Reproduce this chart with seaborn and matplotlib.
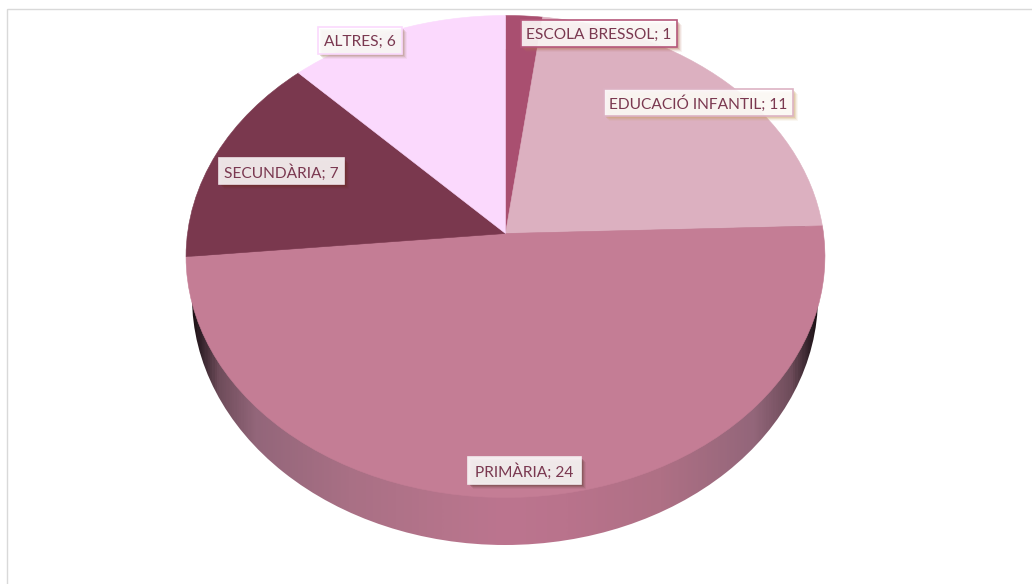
import numpy as np
import matplotlib
matplotlib.use("Agg")
import matplotlib.pyplot as plt
from matplotlib.colors import LinearSegmentedColormap
from matplotlib.patches import PathPatch, Rectangle, Ellipse
from matplotlib.path import Path
import seaborn as sns

# Data
categories = ["ESCOLA BRESSOL", "EDUCACIÓ INFANTIL", "PRIMÀRIA", "SECUNDÀRIA", "ALTRES"]
values = [1, 11, 24, 7, 6]

# Style
slice_colors = ["#A94F70", "#DCB0C0", "#C47D95", "#7A384E", "#FBD9FD"]
box_edges = ["#B5577A", "#DDB3C4", "#F3ECEE", "#EFE4E8", "#FBD9FD"]
shadow_colors = ["#B4705A", "#C9A060", "#5A3A30", "#6A2A20", "#A08060"]
TEXT_COLOR = "#7A3850"
# label boxes: left, top, right, bottom in pixels
label_boxes = [(521, 20, 677, 47), (604, 89, 793, 116), (468, 457, 581, 484),
               (219, 158, 344, 184), (318, 27, 402, 54)]

# Projection of the pie's unit circle to pixels (tilted, with perspective)
CX, CY = 505.5, 233.5
RX, RY = 318, 238.8
K = 0.0954


def project(xy):
    w = 1 + K * xy[:, 1]
    return np.column_stack([CX + RX * xy[:, 0] / w, CY - RY * xy[:, 1] / w])


sns.set_theme(style="white")
plt.rcParams['font.family'] = ['Lato', 'DejaVu Sans']

fig = plt.figure(figsize=(10.32, 5.84), dpi=100)
ax = fig.add_axes([0, 0, 1, 1])
palette = sns.color_palette(slice_colors)

wedges, _ = ax.pie(values, startangle=90, counterclock=False, radius=1, colors=palette)

# Side of the pie, a lower ellipse with a horizontal gradient
side_cmap = LinearSegmentedColormap.from_list("side", [
    (0.00, "#1E1216"), (0.012, "#33222A"), (0.04, "#6E4C5A"), (0.10, "#93667A"),
    (0.25, "#A97085"), (0.40, "#B5748B"), (0.50, "#BC758F"), (0.60, "#B9738C"),
    (0.75, "#AF7085"), (0.90, "#93667A"), (0.96, "#6E4C5A"), (0.988, "#33222A"), (1.00, "#1E1216")])
grad = np.linspace(0, 1, 600).reshape(1, -1)
side = ax.imshow(grad, cmap=side_cmap, extent=[192, 818, 550, 40], aspect="auto",
                 interpolation="bilinear", zorder=1)
side_clip = Ellipse((505, 297), 626, 496, transform=ax.transData, facecolor="none", edgecolor="none")
ax.add_patch(side_clip)
side.set_clip_path(side_clip)

# Top face, from the wedges the pie made
for wedge, color in zip(wedges, palette):
    path = wedge.get_patch_transform().transform_path(wedge.get_path())
    wedge.remove()
    ax.add_patch(PathPatch(Path(project(path.vertices), path.codes), facecolor=color,
                           edgecolor=color, linewidth=0.4, zorder=2))

# Labels
for name, value, box, edge, shadow in zip(categories, values, label_boxes, box_edges, shadow_colors):
    left, top, right, bottom = box
    for off, alpha in [(5, 0.08), (4, 0.12), (3, 0.2), (2, 0.25)]:
        ax.add_patch(Rectangle((left + off, top + off), right - left, bottom - top,
                               facecolor=shadow, edgecolor="none", alpha=alpha, zorder=3))
    ax.add_patch(Rectangle((left, top), right - left, bottom - top, facecolor="white",
                           alpha=0.87, edgecolor="none", zorder=4))
    ax.add_patch(Rectangle((left, top), right - left, bottom - top, facecolor="none",
                           edgecolor=edge, linewidth=1.2, zorder=5))
    ax.text((left + right) / 2, (top + bottom) / 2 + 1.2, f"{name}; {value}", color=TEXT_COLOR,
            fontsize=11.2, ha="center", va="center", zorder=6)

# Chart frame, runs off the right and bottom of the picture
ax.add_patch(Rectangle((7, 9), 2000, 2000, facecolor="none", edgecolor="#D9D9D9",
                       linewidth=1, zorder=0))

ax.set_aspect("auto")
ax.set_xlim(0, 1032)
ax.set_ylim(584, 0)
ax.axis("off")

plt.savefig("out.png", dpi=100, facecolor="white")
plt.close()
